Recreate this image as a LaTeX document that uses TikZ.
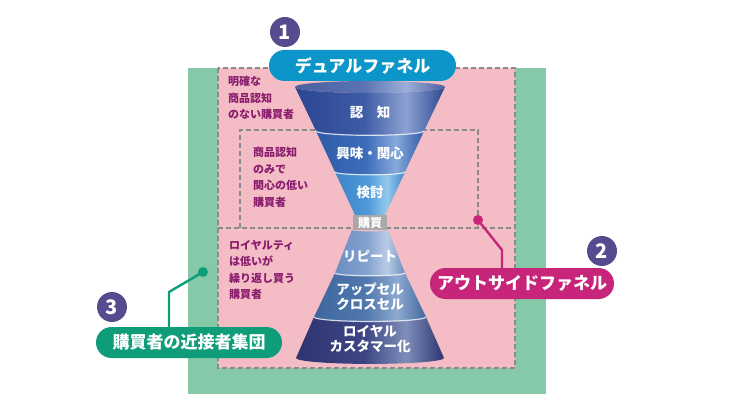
\documentclass[tikz,border=0pt]{standalone}
\usepackage{fontspec}
\setmainfont{Noto Sans CJK JP}
\definecolor{mint}{HTML}{86C9A8}
\definecolor{rose}{HTML}{F4BCC4}
\definecolor{dashgray}{HTML}{8A8A8A}
\definecolor{sky}{HTML}{0B95C8}
\definecolor{berry}{HTML}{C7257A}
\definecolor{leaf}{HTML}{0F9D79}
\definecolor{numpurple}{HTML}{574A8E}
\definecolor{notecolor}{HTML}{8A1C6E}
\definecolor{buygray}{HTML}{A9A9A9}
% colours and shading of one funnel stage
\newcommand\stagecolors[4]{%
  \definecolor{#1A}{HTML}{#2}\definecolor{#1B}{HTML}{#3}\definecolor{#1C}{HTML}{#4}%
  \pgfdeclarehorizontalshading{#1}{100bp}{color(0bp)=(#1A);color(25bp)=(#1A);
    color(48bp)=(#1B);color(62bp)=(#1C);color(75bp)=(#1A);color(100bp)=(#1A)}}
\stagecolors{ninchi}{2C4691}{3E5BA5}{8CA2D2}
\stagecolors{kyomi}{2F5BA8}{3C6DB9}{86A9DB}
\stagecolors{kento}{3F86C8}{4D98D7}{94C8EC}
\stagecolors{repeat}{6C8EC2}{84A2CE}{B9CCE5}
\stagecolors{upsell}{3F679F}{5078AE}{8EA9CF}
\stagecolors{loyal}{2F3472}{3C4583}{7E8EB8}
% one band of the funnel: top y, top half width, bottom y, bottom half width, shading
\newcommand\funnelband[5]{%
  \shade[shading=#5] (370-#2,#1) arc[start angle=180,end angle=0,x radius=#2,y radius=0.08*#2]
    -- (370+#4,#3) arc[start angle=0,end angle=180,x radius=#4,y radius=0.08*#4] -- cycle;}
\newcommand\bandline[2]{%
  \draw[white,line width=1.2pt,opacity=.75] (370-#2,#1) arc[start angle=180,end angle=0,x radius=#2,y radius=0.08*#2];}
\begin{document}
\begin{tikzpicture}[x=1pt,y=-1pt,
  buyernote/.style={anchor=north west,inner sep=0pt,align=left,text=notecolor,font=\bfseries\fontsize{11}{16.5}\selectfont},
  stagetext/.style={text=white,align=center,inner sep=0pt,font=\bfseries\fontsize{13.5}{15}\selectfont},
  tagbox/.style={rounded corners=15.5pt,minimum height=31pt,inner sep=0pt,text=white,font=\bfseries\fontsize{17}{20}\selectfont},
  numbadge/.style={circle,fill=numpurple,minimum size=30pt,inner sep=0pt,text=white,font=\bfseries\fontsize{20}{20}\selectfont},
  dotmark/.style={circle,minimum size=10pt,inner sep=0pt},
  guideline/.style={dashgray,line width=1.2pt,dash pattern=on 5pt off 3pt}]
\useasboundingbox (0,0) rectangle (736,414);
% areas
\fill[mint] (188,68) rectangle (546,394);
\fill[rose] (218,68) rectangle (515,368);
\draw[guideline] (218,68) rectangle (515,368);
\draw[guideline] (218,228) -- (515,228);
\draw[guideline] (240,228) -- (240,130) -- (478,130) -- (478,228);
% funnel
\funnelband{87}{75}{131}{54}{ninchi}
\shade[shading=ninchi] (370,87) ellipse[x radius=75,y radius=6];
\fill[white,opacity=.15] (370,87) ellipse[x radius=75,y radius=6];
\funnelband{131}{54}{172}{35}{kyomi}
\funnelband{172}{35}{215}{15}{kento}
\funnelband{230}{18}{273}{35}{repeat}
\funnelband{273}{35}{317}{56}{upsell}
\funnelband{317}{56}{358}{74}{loyal}
\bandline{131}{54}
\bandline{172}{35}
\bandline{273}{35}
\bandline{317}{56}
\node[fill=buygray,minimum width=34pt,minimum height=15pt,inner sep=0pt,text=white,font=\bfseries\fontsize{12}{12}\selectfont] (buy) at (370,222.5) {購買};
\node[stagetext] (ninchi) at (370,112) {認\hspace{1em}知};
\node[stagetext] (kyomi) at (370,153) {興味・関心};
\node[stagetext] (kento) at (370,192) {検討};
\node[stagetext] (repeat) at (370,256) {リピート};
\node[stagetext] (upsell) at (370,297) {アップセル\\クロスセル};
\node[stagetext] (loyal) at (370,339.5) {ロイヤル\\カスタマー化};
% buyer notes
\node[buyernote] (unaware) at (228,76) {明確な\\商品認知\\のない購買者};
\node[buyernote] (aware) at (253,147) {商品認知\\のみで\\関心の低い\\購買者};
\node[buyernote] (repeater) at (229,240) {ロイヤルティ\\は低いが\\繰り返し買う\\購買者};
% labels
\node[tagbox,fill=sky,minimum width=187pt] (dual) at (362.5,65.5) {デュアルファネル};
\node[numbadge] (one) at (285,32) {1};
\node[dotmark,fill=berry] (odot) at (478,220) {};
\coordinate (obend) at (502,250);
\node[tagbox,fill=berry,minimum width=184pt] (outside) at (522,283.5) {アウトサイドファネル};
\draw[berry,line width=2.4pt] (odot.center) -- (obend) -- (obend |- outside.north);
\node[numbadge] (two) at (602,251) {2};
\node[dotmark,fill=leaf] (gdot) at (203,272) {};
\coordinate (gbend) at (169,292);
\node[tagbox,fill=leaf,minimum width=186pt] (near) at (189,342.5) {購買者の近接者集団};
\draw[leaf,line width=2.4pt] (gdot.center) -- (gbend) -- (gbend |- near.north);
\node[numbadge] (three) at (112,307) {3};
\end{tikzpicture}
\end{document}
